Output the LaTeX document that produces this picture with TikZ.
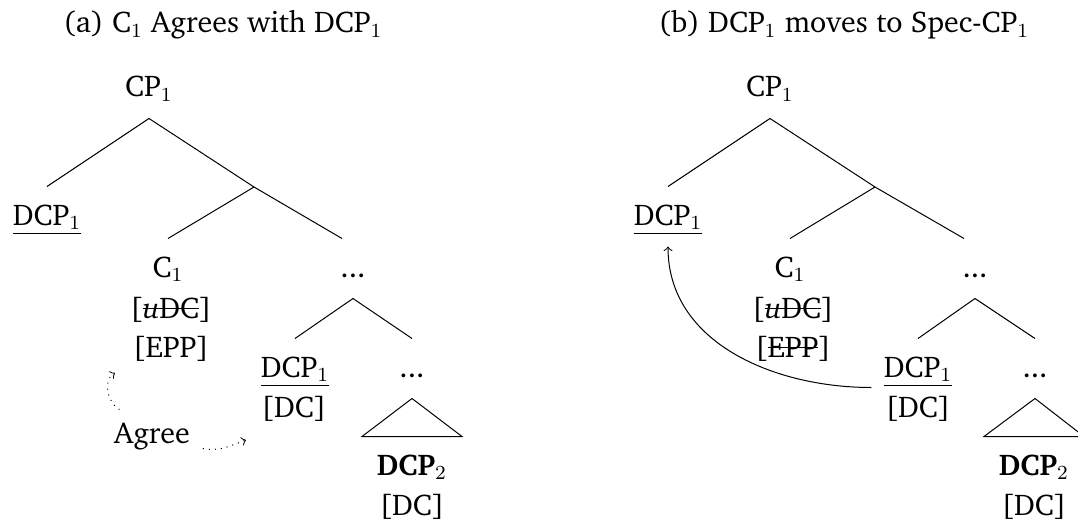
\documentclass[tikz,border=0pt,12pt]{standalone}
\usepackage[T1]{fontenc}
\usepackage{charter}

\newsavebox\xstrikebox
\newcommand{\xstrike}[1]{\sbox\xstrikebox{#1}\rlap{\rule[0.3em]{\wd\xstrikebox}{0.45pt}}\usebox\xstrikebox}

\begin{document}
\begin{tikzpicture}[
        x=0.4pt, y=0.4pt,
        every node/.style={inner sep=0pt, anchor=base},
        every path/.style={thin},
        phrase/.style={text height=15.2pt, text depth=8.4pt},
        relation/.style={->, dotted}
    ]
    \useasboundingbox (0,0) rectangle (1078,521);

    % Nodes (a)
    \node (titleA) at (223,488) {(a) C$_1$ Agrees with DCP$_1$};
    \node (cpA)[phrase] at (149,424) {CP$_1$};
    \node (specA)[phrase] at (47,296) {\underline{DCP$_1$}};
    \coordinate (cbarA) at (254,334);
    \node (cA)[phrase] at (168,244) {C$_1$};
    \node (udcA) at (171,203) {[\xstrike{\textit{u}DC}]};
    \node (eppA) at (171,164) {[EPP]};
    \node (dotsA)[phrase] at (353,244) {...};
    \node (dcpA)[phrase] at (295,144) {\underline{DCP$_1$}};
    \node (dcA) at (294,104) {[DC]};
    \node (dotsAA)[phrase] at (412,144) {...};
    \node (dcpTwoA)[phrase] at (412,46) {\textbf{DCP}$_2$};
    \node (dcTwoA) at (412,6) {[DC]};
    \node (agree)[inner sep=5pt] at (152,78) {Agree};
    \coordinate (agreeC) at (115,148);
    \coordinate (agreeD) at (246,81);

    % Nodes (b)
    \node (titleB) at (844,488) {(b) DCP$_1$ moves to Spec-CP$_1$};
    \node (cpB)[phrase] at (770,424) {CP$_1$};
    \node (specB)[phrase] at (668,296) {\underline{DCP$_1$}};
    \coordinate (cbarB) at (875,334);
    \node (cB)[phrase] at (790,244) {C$_1$};
    \node (udcB) at (793,203) {[\xstrike{\textit{u}DC}]};
    \node (eppB) at (793,164) {[\xstrike{EPP}]};
    \node (dotsB)[phrase] at (975,244) {...};
    \node (dcpB)[phrase] at (918,144) {\underline{DCP$_1$}};
    \node (dcB) at (918,104) {[DC]};
    \node (dotsBB)[phrase] at (1035,144) {...};
    \node (dcpTwoB)[phrase] at (1034,46) {\textbf{DCP}$_2$};
    \node (dcTwoB) at (1034,6) {[DC]};

    % Edges (a)
    \draw (cpA.south) -- (specA.north);
    \draw (cpA.south) -- (cbarA) -- ([xshift=-4.4pt]dotsA.north);
    \draw (cbarA) -- (cA.north);
    \draw (dotsA.south) -- (dcpA.north);
    \draw (dotsA.south) -- (dotsAA.north);
    \draw (dotsAA.south) -- ([xshift=-20pt]dcpTwoA.north) -- ([xshift=20pt]dcpTwoA.north) -- cycle;
    \draw[relation] (agree.141) to[out=150, in=210] (agreeC);
    \draw[relation] (agree.-14) to[out=-10, in=200] (agreeD);

    % Edges (b)
    \draw (cpB.south) -- (specB.north);
    \draw (cpB.south) -- (cbarB) -- ([xshift=-4.4pt]dotsB.north);
    \draw (cbarB) -- (cB.north);
    \draw (dotsB.south) -- (dcpB.north);
    \draw (dotsB.south) -- (dotsBB.north);
    \draw (dotsBB.south) -- ([xshift=-20pt]dcpTwoB.north) -- ([xshift=20pt]dcpTwoB.north) -- cycle;
    \draw[->] ([xshift=-4.8pt,yshift=4.4pt]dcpB.south west) to[out=180, in=-90] (specB.south);

\end{tikzpicture}
\end{document}
